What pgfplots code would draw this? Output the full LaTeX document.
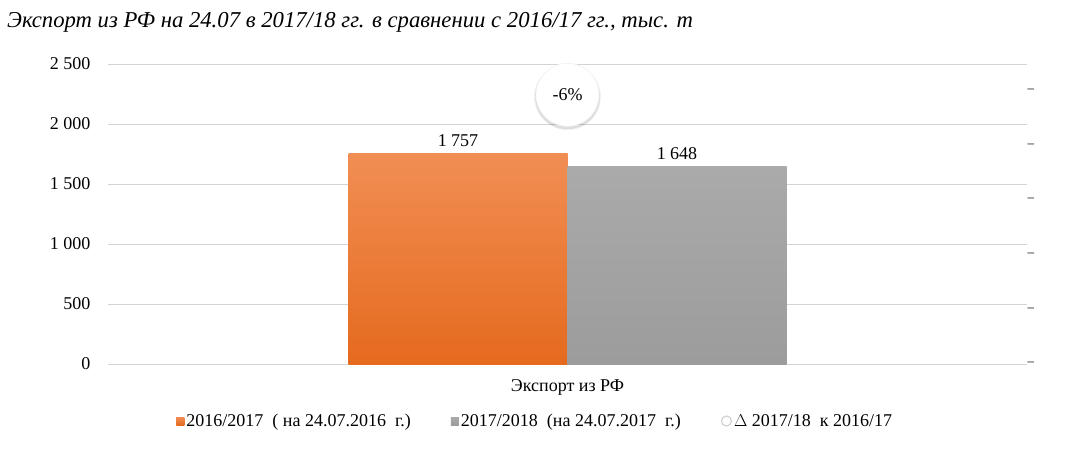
\documentclass[border=0pt]{standalone}
\usepackage{pgfplots}
\pgfplotsset{compat=1.18}
\usepackage{fontspec}
\setmainfont{Liberation Serif}

\definecolor{orTop}{RGB}{241,142,84}
\definecolor{orBot}{RGB}{229,106,30}
\definecolor{grTop}{RGB}{170,170,170}
\definecolor{grBot}{RGB}{156,156,156}
\definecolor{gridc}{RGB}{212,212,212}

\begin{document}
\begin{tikzpicture}
\useasboundingbox (0pt,0pt) rectangle (1065pt,448pt);
\node[anchor=base west, font=\fontsize{22.7}{26}\selectfont\itshape, inner sep=0pt]
  at (7pt,420pt) {Экспорт из РФ на 24.07 в 2017/18 гг. в сравнении с 2016/17 гг., тыс. т};

% main axis: bars
\begin{axis}[
    at={(108pt,84pt)}, anchor=south west,
    width=919pt, height=300pt, scale only axis,
    xmin=-1, xmax=1,
    ymin=0, ymax=2500,
    ytick={0,500,...,2500},
    xtick={0}, xticklabels={Экспорт из РФ},
    axis line style={draw=none},
    major tick length=0pt,
    ymajorgrids, grid style={gridc, line width=0.9pt},
    tick label style={font=\fontsize{18}{21}\selectfont},
    yticklabel style={xshift=-14pt},
    xticklabel style={yshift=-12pt},
    /pgf/number format/.cd, 1000 sep={\ }, assume math mode=true,
    /pgfplots/.cd,
    ybar, bar width=219pt,
    nodes near coords,
    every node near coord/.append style={font=\fontsize{18}{21}\selectfont, yshift=3pt,
        /pgf/number format/1000 sep={\ }, /pgf/number format/assume math mode=true},
    legend style={at={(0.071,-0.19)}, anchor=west, draw=none, fill=none,
        legend columns=3, font=\fontsize{18}{21}\selectfont,
        /tikz/every even column/.append style={column sep=38pt}},
    legend cell align=left,
]
\addplot[draw=none, top color=orTop, bottom color=orBot, bar shift=-109.5pt,
    legend image code/.code={\fill[orBot!90!white] (0pt,-4pt) rectangle (8pt,4pt);}]
    coordinates {(0,1757)};
\addlegendentry{2016/2017 \ ( на 24.07.2016 \ г.)}
\addplot[draw=none, top color=grTop, bottom color=grBot, bar shift=109.5pt,
    legend image code/.code={\fill[grTop] (0pt,-4pt) rectangle (8pt,4pt);}]
    coordinates {(0,1648)};
\addlegendentry{2017/2018 \ (на 24.07.2017 \ г.)}
\addlegendimage{legend image code/.code={\draw[black!18, line width=1.2pt] (5pt,0pt) circle (5pt);}}
\addlegendentry{$\Delta$ 2017/18 \ к 2016/17}
\end{axis}

% secondary axis: delta bubble
\begin{axis}[
    at={(108pt,84pt)}, anchor=south west,
    width=919pt, height=300pt, scale only axis,
    xmin=-1, xmax=1,
    ymin=0, ymax=5.494,
    axis x line=none,
    axis y line*=right,
    axis line style={draw=none},
    major tick length=0pt,
    ytick={0,...,5},
    yticklabels={--,--,--,--,--,--},
    yticklabel style={font=\fontsize{13}{15}\selectfont, xshift=-3pt},
    point meta=explicit symbolic,
]
\addplot[only marks, mark=*, mark size=33pt,
    mark options={fill=black, draw=none, opacity=0.05, yshift=-2pt}]
    coordinates {(0,4.93)};
\addplot[only marks, mark=*, mark size=32pt,
    mark options={fill=black, draw=none, opacity=0.08, yshift=-2pt}]
    coordinates {(0,4.93)};
\addplot[only marks, mark=*, mark size=31.5pt,
    mark options={fill=white, draw=black!6, line width=0.5pt},
    nodes near coords, every node near coord/.append style={anchor=center,
        font=\fontsize{18}{21}\selectfont}]
    coordinates {(0,4.93) [-6\%]};
\end{axis}
\end{tikzpicture}
\end{document}
